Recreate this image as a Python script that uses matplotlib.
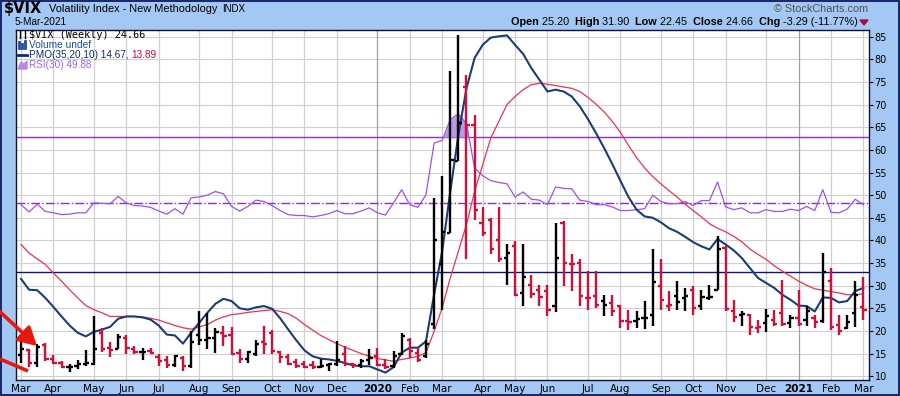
import numpy as np
import matplotlib.pyplot as plt
from matplotlib.lines import Line2D
from matplotlib.patches import Polygon

# $VIX weekly bars, week of 4-Mar-2019 .. week of 1-Mar-2021 (105 weeks)
opens = [14.6, 15.8, 13.0, 17.0, 13.9, 12.9, 12.0, 12.3, 12.8, 12.8,
         19.5, 16.2, 16.0, 18.5, 16.0, 15.4, 15.5, 14.3, 13.5, 12.5,
         14.0, 12.2, 19.0, 18.0, 18.5, 19.5, 19.0, 15.2, 13.9, 15.0,
         17.5, 19.5, 15.3, 14.2, 13.2, 12.6, 12.4, 12.1, 12.5, 12.8,
         15.0, 12.6, 12.5, 13.5, 14.5, 12.4, 12.3, 14.8, 18.1, 15.2,
         14.4, 21.5, 34.8, 41.6, 57.5, 74.0, 65.6, 43.8, 44.4, 40.2,
         36.2, 38.7, 28.4, 30.2, 29.1, 28.8, 25.5, 43.8, 34.7, 35.0,
         27.3, 27.7, 26.6, 26.2, 25.5, 22.1, 22.1, 22.9, 23.6, 30.0,
         25.6, 27.7, 27.3, 29.1, 25.5, 27.3, 29.1, 38.3, 24.3, 23.6,
         23.6, 20.7, 21.8, 22.5, 24.0, 21.8, 22.9, 22.5, 22.9, 22.1,
         31.0, 21.4, 20.7, 24.0, 25.20]
highs = [18.1, 16.0, 17.2, 17.4, 14.6, 13.4, 12.7, 13.5, 15.7, 23.2,
         20.7, 17.6, 19.3, 19.2, 16.6, 16.3, 16.3, 14.8, 14.4, 14.6,
         14.5, 19.9, 24.3, 24.0, 20.7, 21.2, 20.8, 16.0, 15.5, 18.1,
         21.1, 20.3, 15.5, 14.8, 13.7, 13.3, 13.3, 13.7, 13.0, 17.7,
         16.6, 13.0, 13.7, 16.0, 16.3, 13.7, 15.5, 19.6, 18.5, 16.3,
         18.1, 49.4, 54.2, 77.5, 85.47, 76.6, 67.6, 47.3, 45.0, 47.4,
         39.3, 39.8, 39.1, 32.4, 30.2, 30.2, 43.8, 44.2, 36.9, 35.8,
         33.2, 33.2, 28.0, 28.0, 25.8, 24.7, 24.3, 26.6, 38.0, 35.8,
         28.8, 31.0, 29.5, 29.9, 29.1, 30.2, 40.9, 38.7, 26.9, 24.3,
         23.7, 22.5, 24.9, 24.7, 31.3, 23.6, 29.1, 25.5, 23.6, 37.2,
         33.9, 23.6, 23.6, 31.0, 31.90]
lows = [13.0, 12.1, 12.1, 13.3, 12.6, 11.8, 11.0, 11.7, 12.3, 12.4,
        15.4, 14.2, 15.9, 14.9, 14.8, 13.5, 14.8, 12.3, 11.8, 12.0,
        11.1, 11.8, 17.0, 16.0, 15.2, 16.6, 14.7, 13.0, 12.9, 14.4,
        14.8, 14.8, 13.0, 12.4, 11.8, 11.8, 11.6, 11.9, 11.2, 12.2,
        12.2, 11.8, 11.9, 12.4, 12.2, 11.7, 11.8, 14.6, 14.0, 13.2,
        14.0, 20.5, 24.7, 41.6, 57.5, 35.8, 44.6, 40.9, 36.9, 35.3,
        30.1, 27.7, 25.5, 27.3, 25.5, 23.2, 24.1, 29.9, 28.8, 25.5,
        24.7, 25.1, 23.2, 23.2, 20.7, 20.3, 20.7, 20.4, 21.2, 24.7,
        24.3, 24.7, 24.3, 23.6, 24.7, 26.9, 29.0, 24.3, 21.9, 21.2,
        19.2, 19.6, 19.7, 21.0, 21.0, 20.7, 21.0, 21.0, 20.7, 21.8,
        20.3, 19.2, 20.4, 20.8, 22.45]
closes = [16.05, 12.88, 16.48, 13.71, 12.82, 12.01, 12.09, 12.73, 12.87, 16.04,
          15.96, 15.85, 18.71, 16.30, 15.28, 15.40, 15.08, 13.28, 12.39, 14.45,
          12.16, 17.61, 17.97, 18.47, 19.87, 18.98, 15.00, 13.74, 15.32, 17.22,
          17.04, 15.58, 14.25, 12.65, 12.30, 12.07, 12.05, 12.34, 12.62, 13.62,
          12.63, 12.51, 13.43, 14.02, 12.56, 12.10, 14.56, 18.84, 15.47, 13.68,
          17.08, 40.11, 41.94, 57.83, 66.04, 65.54, 46.80, 41.67, 38.15, 35.93,
          37.19, 27.98, 31.89, 28.16, 27.51, 24.52, 36.09, 35.12, 34.73, 27.68,
          27.29, 25.68, 25.84, 24.46, 22.21, 22.05, 22.54, 22.96, 30.75, 26.87,
          25.83, 26.38, 27.63, 25.00, 27.41, 27.55, 38.02, 24.86, 23.10, 23.70,
          20.84, 20.79, 23.31, 21.57, 21.53, 22.75, 21.56, 24.34, 21.91, 33.09,
          20.87, 19.97, 22.05, 27.95, 24.66]

# overlays as drawn on the price scale
pmo = [31.5, 29.1, 29.0, 27.3, 25.3, 23.2, 21.2, 19.6, 18.8, 19.8,
       20.3, 20.9, 22.7, 23.2, 23.2, 23.0, 22.5, 21.2, 19.2, 19.0,
       17.2, 19.6, 21.8, 24.0, 26.0, 27.1, 26.6, 25.0, 24.7, 25.2,
       25.5, 24.9, 22.8, 20.3, 17.9, 15.7, 14.4, 13.9, 13.7, 13.4,
       12.9, 12.4, 12.2, 12.2, 11.5, 10.8, 12.0, 15.2, 16.3, 16.3,
       17.7, 28.0, 37.6, 50.8, 63.3, 73.6, 80.3, 83.2, 84.8, 85.1,
       85.3, 83.2, 81.2, 78.1, 75.5, 72.9, 73.3, 72.9, 71.8, 69.6,
       66.8, 63.7, 60.4, 56.9, 53.2, 49.6, 46.8, 45.3, 45.0, 44.0,
       42.7, 41.9, 40.8, 39.6, 38.7, 38.0, 40.3, 39.1, 37.8, 36.1,
       33.9, 31.7, 30.6, 29.5, 28.0, 26.9, 25.6, 25.5, 24.3, 27.4,
       27.3, 26.3, 26.6, 28.8, 29.5]
pmo_sig = [39.1, 37.2, 35.9, 34.7, 32.8, 31.0, 29.1, 27.3, 25.6, 24.7,
           24.0, 23.2, 23.2, 23.2, 23.2, 23.1, 22.8, 22.4, 21.8, 21.2,
           20.7, 20.4, 20.9, 21.4, 22.4, 23.1, 23.6, 23.8, 24.1, 24.3,
           24.5, 24.7, 24.3, 23.8, 22.8, 21.4, 20.2, 19.0, 18.1, 17.2,
           16.4, 15.7, 15.0, 14.4, 13.9, 13.6, 13.3, 13.7, 14.0, 14.4,
           15.2, 19.9, 25.1, 31.7, 37.6, 43.5, 50.8, 56.7, 62.6, 66.3,
           70.0, 71.8, 73.3, 74.4, 74.7, 74.5, 74.2, 73.9, 73.6, 72.9,
           71.6, 70.1, 68.4, 66.3, 63.9, 61.0, 58.3, 56.0, 54.1, 52.5,
           51.0, 49.6, 48.0, 46.6, 45.2, 43.7, 42.7, 41.9, 40.9, 39.7,
           38.1, 36.9, 35.8, 34.4, 33.2, 32.1, 31.0, 30.1, 29.3, 29.0,
           28.7, 28.4, 28.0, 28.0, 28.2]
rsi = [47.9, 46.3, 48.0, 46.4, 46.1, 45.7, 45.8, 46.1, 46.1, 48.3,
       48.2, 48.1, 49.7, 48.3, 47.7, 47.6, 47.3, 46.5, 45.8, 47.0,
       45.8, 49.4, 49.6, 50.0, 50.8, 50.3, 47.5, 46.5, 47.5, 48.9,
       48.6, 47.7, 46.6, 45.7, 45.5, 45.5, 45.2, 45.5, 45.9, 46.6,
       45.9, 45.9, 46.5, 47.2, 46.1, 45.6, 48.3, 51.2, 47.9, 47.3,
       50.1, 61.5, 62.1, 66.7, 68.0, 65.8, 56.0, 54.3, 53.2, 52.8,
       52.5, 49.6, 50.7, 49.1, 48.9, 47.9, 51.8, 51.5, 51.4, 48.9,
       48.6, 47.9, 47.9, 47.4, 46.6, 46.6, 46.8, 47.0, 50.0, 48.6,
       48.1, 48.1, 48.6, 47.7, 48.8, 48.8, 52.9, 47.4, 46.8, 47.2,
       46.1, 46.1, 46.8, 46.4, 46.4, 46.9, 46.6, 47.5, 46.6, 51.2,
       46.2, 46.1, 46.9, 49.1, 47.9]
rsi_hi, rsi_mid, rsi_lo = 62.8, 48.2, 33.0

# first week of each month
month_pos = [0, 4, 9, 13, 17, 22, 26, 31, 35, 39, 44, 48, 52,
             57, 61, 65, 70, 74, 79, 83, 87, 92, 96, 100, 104]
month_lbl = ['Mar', 'Apr', 'May', 'Jun', 'Jul', 'Aug', 'Sep', 'Oct', 'Nov', 'Dec',
             '2020', 'Feb', 'Mar', 'Apr', 'May', 'Jun', 'Jul', 'Aug', 'Sep', 'Oct',
             'Nov', 'Dec', '2021', 'Feb', 'Mar']

BG = '#a4c8f4'
RED = '#d0103a'
NAVY = '#1b3c78'
SIG = '#f0304c'
PURP = '#9a52ee'

W, H = 900, 396
fig = plt.figure(figsize=(W / 100, H / 100), dpi=100, facecolor=BG,
                 edgecolor='#1a2a6a', linewidth=1.5)
ax = fig.add_axes([16 / W, 1 - 379.5 / H, 853 / W, 350 / H])

x = np.arange(len(closes))
o = np.array(opens); h = np.array(highs); l = np.array(lows); c = np.array(closes)
prev = np.concatenate([[c[0] - 1], c[:-1]])
cols = np.where(c < prev, RED, 'black')

ax.set_xlim(-0.62, 104.7)
ax.set_ylim(9.27, 86.6)

# grid
for v in range(10, 90, 5):
    ax.axhline(v, color='#cfcfcf', lw=0.8, zorder=0)
for p, lb in zip(month_pos, month_lbl):
    ax.axvline(p, color='#a0a0a0' if lb.isdigit() else '#cfcfcf', lw=0.9, zorder=0)

ax.axhline(rsi_hi, color='#8a2be2', lw=1.0, zorder=1)
ax.axhline(rsi_lo, color='#101080', lw=1.0, zorder=1)
ax.axhline(rsi_mid, color='#8a2be2', lw=1.0, ls='-.', zorder=1)

r = np.array(rsi)
ax.fill_between(x, r, rsi_hi, where=r > rsi_hi, interpolate=True,
                color='#b88ae6', alpha=0.9, lw=0, zorder=1)
ax.plot(x, rsi, color=PURP, lw=0.9, zorder=2)
ax.plot(x, pmo_sig, color=SIG, lw=0.9, zorder=2)
ax.plot(x, pmo, color=NAVY, lw=1.5, zorder=2)

# OHLC bars
tk = 0.4
ax.vlines(x, l, h, colors=cols, lw=1.7, zorder=3)
ax.hlines(o, x - tk, x, colors=cols, lw=1.7, zorder=3)
ax.hlines(c, x, x + tk, colors=cols, lw=1.7, zorder=3)

ax.set_yticks(range(10, 90, 5))
ax.yaxis.tick_right()
ax.tick_params(axis='y', length=3, width=0.8, pad=1, labelsize=7, colors='black')
ax.set_xticks(month_pos)
ax.set_xticklabels(month_lbl)
ax.tick_params(axis='x', length=0, pad=3, labelsize=7.5)
for t in ax.get_xticklabels():
    if t.get_text().isdigit():
        t.set_fontweight('bold')
for s in ax.spines.values():
    s.set_color('#101030')
    s.set_linewidth(1.0)

def px(xp, yp):
    return xp / W, 1 - yp / H

rend = fig.canvas.get_renderer()

def run(pieces, x0, yp, right=False, gap=0):
    # lay text pieces out one after another (pixel units)
    arts = []
    for s, kw in pieces:
        t = fig.text(0, 1 - yp / H, s, va='center', **kw)
        arts.append(t)
    widths = [t.get_window_extent(rend).width for t in arts]
    total = sum(widths) + gap * (len(arts) - 1)
    xp = x0 - total if right else x0
    for t, w in zip(arts, widths):
        t.set_x(xp / W)
        xp += w + gap
    return xp

SANS = 'Liberation Sans'

# header texts
fig.text(*px(4, 9), '$VIX', fontsize=10.5, fontweight='bold', va='center')
run([('Volatility Index - New Methodology', dict(fontsize=7.9, family=SANS)),
     ('INDX', dict(fontsize=7, family=SANS))], 49, 9.5, gap=5)
fig.text(*px(15, 22), '5-Mar-2021', fontsize=7.2, family=SANS, va='center')
fig.text(*px(868, 9), '\u00a9 StockCharts.com', fontsize=7.8, family=SANS,
         color='#505050', va='center', ha='right')
bold = dict(fontsize=7.8, family=SANS, fontweight='bold')
norm = dict(fontsize=7.8, family=SANS)
run([('Open ', bold), ('25.20  ', norm), ('High ', bold), ('31.90  ', norm),
     ('Low ', bold), ('22.45  ', norm), ('Close ', bold), ('24.66  ', norm),
     ('Chg ', bold), ('-3.29 (-11.77%)', norm)], 858, 22, right=True)
fig.add_artist(Polygon([px(860, 20), px(868, 20), px(864, 25)], closed=True,
                       transform=fig.transFigure, color='#a0103a'))

# legend
fig.text(*px(29, 34.5), '$VIX (Weekly) 24.66', fontsize=7.3, family='DejaVu Sans Mono',
         va='center')
fig.text(*px(29, 44.5), 'Volume undef', fontsize=7.3, family=SANS, color='#1c4f9a',
         va='center')
run([('PMO(35,20,10) 14.67,', dict(fontsize=7.2, family=SANS, color='#0d2a6a')),
     ('13.89', dict(fontsize=7.2, family=SANS, color='#e0002a'))], 29, 55, gap=3)
fig.text(*px(29, 65), 'RSI(30) 49.88', fontsize=7.2, family=SANS, color='#a060f0',
         va='center')
for xa in (19.5, 24.5):
    fig.add_artist(Line2D(*zip(px(xa, 31), px(xa, 38)), transform=fig.transFigure,
                          color='black', lw=1))
for xa, top in ((19, 42), (22, 44), (25, 41)):
    fig.add_artist(Line2D(*zip(px(xa, top), px(xa, 48)), transform=fig.transFigure,
                          color='#1c4f9a', lw=2))
fig.add_artist(Line2D(*zip(px(18, 55), px(27, 55)), transform=fig.transFigure,
                      color='#0d2a6a', lw=2))
fig.add_artist(Polygon([px(18, 69), px(21, 62), px(24, 64), px(27, 61), px(27, 69)],
                       closed=True, transform=fig.transFigure, color='#b88ae6'))

# red arrows
ax.annotate('', xy=(37, H - 346), xytext=(-2, H - 310), xycoords='figure pixels',
            textcoords='figure pixels', annotation_clip=False,
            arrowprops=dict(arrowstyle='-|>,head_length=0.9,head_width=0.5',
                            color='#e8180c', lw=2.6, mutation_scale=12,
                            shrinkA=0, shrinkB=0))
fig.add_artist(Line2D([0, 28 / W], [1 - 359 / H, 1 - 371 / H], transform=fig.transFigure,
                      color='#e8180c', lw=2.6, solid_capstyle='butt'))

fig.savefig('out.png', dpi=100, facecolor=BG, edgecolor='#1a2a6a')
